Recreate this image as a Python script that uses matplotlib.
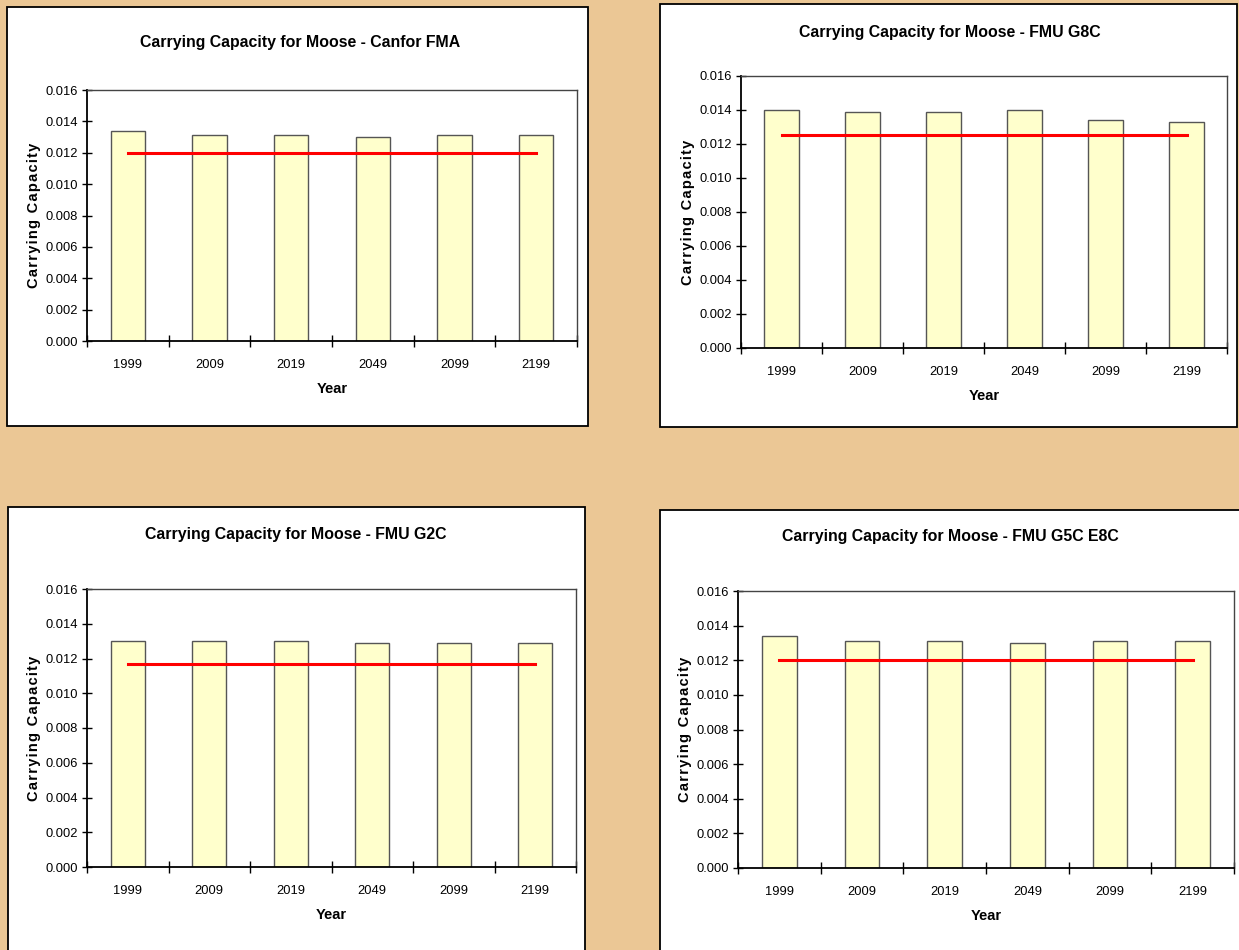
import matplotlib
matplotlib.use("Agg")
import matplotlib.pyplot as plt
from matplotlib.patches import Rectangle
from matplotlib.font_manager import fontManager

names = {f.name for f in fontManager.ttflist}
NARROW = 'Liberation Sans Narrow' if 'Liberation Sans Narrow' in names else 'Liberation Sans'

years = ['1999', '2009', '2019', '2049', '2099', '2199']
titles = ['Carrying Capacity for Moose - Canfor FMA',
          'Carrying Capacity for Moose - FMU G8C',
          'Carrying Capacity for Moose - FMU G2C',
          'Carrying Capacity for Moose - FMU G5C E8C']
canfor_fma = [0.0134, 0.0131, 0.0131, 0.0130, 0.0131, 0.0131]
fmu_g8c = [0.0140, 0.0139, 0.0139, 0.0140, 0.0134, 0.0133]
fmu_g2c = [0.0130, 0.0130, 0.0130, 0.0129, 0.0129, 0.0129]
fmu_g5c_e8c = [0.0134, 0.0131, 0.0131, 0.0130, 0.0131, 0.0131]
thresholds = [0.0120, 0.0125, 0.0117, 0.0120]
series = [canfor_fma, fmu_g8c, fmu_g2c, fmu_g5c_e8c]
yticks = [0.000, 0.002, 0.004, 0.006, 0.008, 0.010, 0.012, 0.014, 0.016]

W, H = 1239, 950
fig = plt.figure(figsize=(W / 100, H / 100), dpi=100)
fig.patch.set_facecolor('#EBC795')

def fx(x):
    return x / W

def fy(y):
    return 1 - y / H

layout = [
    dict(box=(7, 7, 588, 426), ax=(87, 90, 577, 341), ty=42, tx=300),
    dict(box=(660, 4, 1237, 427), ax=(741, 76, 1227, 348), ty=32, tx=950),
    dict(box=(8, 507, 585, 952), ax=(87, 589, 576, 867), ty=534, tx=296),
    dict(box=(660, 510, 1241, 952), ax=(738, 591, 1234, 868), ty=537, tx=950),
]

tick_fs = 10 if NARROW != 'Liberation Sans' else 9.3
title_fs = 12.5 if NARROW != 'Liberation Sans' else 11.4
year_fs = 11 if NARROW != 'Liberation Sans' else 10.5

ylabel_text = '\u200a'.join('Carrying Capacity')

for L, title, vals, thr in zip(layout, titles, series, thresholds):
    bl, bt, br, bb = L['box']
    fig.patches.append(Rectangle((fx(bl), fy(bb)), fx(br - bl), (bb - bt) / H,
                                 transform=fig.transFigure, facecolor='white',
                                 edgecolor='black', linewidth=1.3, zorder=-5))
    al, at, ar, ab = L['ax']
    ax = fig.add_axes([fx(al), fy(ab), fx(ar - al), (ab - at) / H], zorder=1)
    ax.set_facecolor('white')
    x = list(range(len(years)))
    ax.bar(x, vals, width=0.42, color='#FFFFCC', edgecolor='#555555', linewidth=1.0, zorder=2)
    ax.plot([x[0], x[-1]], [thr, thr], color='#FF0000', linewidth=2.2, zorder=3)
    ax.set_xlim(-0.5, len(years) - 0.5)
    ax.set_ylim(0, 0.016)
    ax.set_yticks(yticks)
    ax.set_yticklabels([f'{v:.3f}' for v in yticks], fontfamily=NARROW, fontsize=tick_fs)
    ax.set_xticks(x)
    ax.set_xticklabels(years, fontfamily=NARROW, fontsize=tick_fs)
    ax.set_xticks([i + 0.5 for i in range(-1, len(years))], minor=True)
    ax.tick_params(axis='x', which='major', length=0, pad=13)
    ax.tick_params(axis='x', which='minor', length=9, direction='inout', width=1)
    ax.tick_params(axis='y', length=7, direction='inout', width=1, pad=3)
    for s in ['top', 'right']:
        ax.spines[s].set_color('#444444')
        ax.spines[s].set_linewidth(1.0)
    for s in ['left', 'bottom']:
        ax.spines[s].set_color('black')
        ax.spines[s].set_linewidth(1.3)
    ax.set_xlabel('Year', fontfamily=NARROW, fontweight='bold', fontsize=year_fs, labelpad=8)
    ax.set_ylabel(ylabel_text, fontfamily=['Liberation Sans', 'DejaVu Sans'], fontweight='bold',
                  fontsize=10.5, labelpad=3)
    fig.text(fx(L['tx']), fy(L['ty']), title, fontfamily=NARROW, fontweight='bold',
             fontsize=title_fs, ha='center', va='center')

fig.savefig('out.png', dpi=100, facecolor=fig.get_facecolor())
